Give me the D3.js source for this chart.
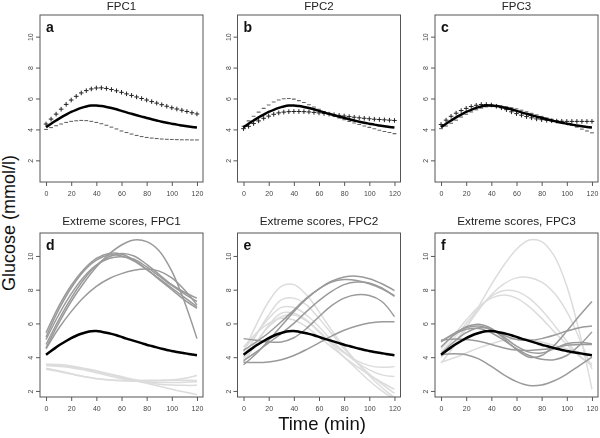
<!DOCTYPE html>
<html><head><meta charset="utf-8">
<script src="https://cdn.jsdelivr.net/npm/d3@7"></script>
<style>body{margin:0;background:#fff}svg{display:block;font-family:"Liberation Sans",Arial,sans-serif}.tk{opacity:0.99;will-change:opacity}</style>
</head><body><svg id="chart" width="600" height="438"></svg>
<script>
// ---------- data ----------
const timeFine = [0,4,8,12,16,20,24,28,32,36,40,44,48,52,56,60,64,68,72,76,80,84,88,92,96,100,104,108,112,116,120];
const timeCoarse = [0,10,20,30,40,50,60,70,80,90,100,110,120];
const xTicks = [0,20,40,60,80,100,120];
const yTicks = [2,4,6,8,10];

const meanCurve = [4.15,4.37,4.58,4.78,4.96,5.13,5.27,5.39,5.48,5.54,5.55,5.51,5.45,5.38,5.3,5.2,5.1,5.01,4.92,4.83,4.74,4.66,4.58,4.5,4.43,4.37,4.31,4.26,4.21,4.16,4.12];

const fpc1Plus  = [4.35,4.67,4.99,5.31,5.62,5.9,6.14,6.36,6.51,6.62,6.68,6.69,6.65,6.58,6.5,6.4,6.3,6.2,6.1,6.0,5.9,5.8,5.7,5.6,5.5,5.4,5.32,5.24,5.16,5.08,5.0];
const fpc1Minus = [4.0,4.12,4.24,4.35,4.45,4.52,4.56,4.58,4.57,4.52,4.45,4.37,4.27,4.15,4.03,3.9,3.8,3.7,3.61,3.54,3.48,3.44,3.41,3.38,3.36,3.35,3.34,3.33,3.33,3.32,3.32];
const fpc2Plus  = [4.05,4.2,4.38,4.55,4.72,4.86,4.98,5.07,5.12,5.15,5.16,5.16,5.15,5.13,5.1,5.07,5.03,4.99,4.95,4.91,4.87,4.83,4.79,4.75,4.72,4.69,4.66,4.64,4.62,4.6,4.58];
const fpc2Minus = [4.2,4.55,4.85,5.12,5.36,5.58,5.77,5.9,5.98,6.0,5.96,5.86,5.74,5.6,5.45,5.3,5.15,5.0,4.87,4.75,4.63,4.52,4.42,4.32,4.22,4.13,4.04,3.95,3.87,3.8,3.73];
const fpc3Plus  = [4.32,4.6,4.85,5.05,5.22,5.36,5.48,5.56,5.61,5.61,5.58,5.5,5.4,5.28,5.14,5.02,4.92,4.83,4.75,4.68,4.63,4.59,4.56,4.54,4.53,4.52,4.52,4.52,4.52,4.52,4.52];
const fpc3Minus = [4.05,4.22,4.4,4.6,4.8,4.98,5.13,5.27,5.38,5.46,5.5,5.52,5.5,5.46,5.4,5.33,5.24,5.14,5.04,4.94,4.84,4.74,4.65,4.56,4.47,4.38,4.27,4.15,4.02,3.9,3.78];

const extDark1 = [
  [4.55,6.0,7.3,8.4,9.35,10.1,10.65,10.95,10.85,10.3,9.1,7.3,5.1],
  [4.5,5.7,6.7,7.55,8.2,8.65,8.95,9.15,9.22,9.1,8.7,8.0,7.1],
  [5.45,7.0,8.25,9.2,9.85,10.15,10.1,9.75,9.2,8.6,8.0,7.4,6.9],
  [5.2,6.8,8.1,9.1,9.75,10.05,10.0,9.7,9.2,8.65,8.1,7.55,7.0],
  [5.05,6.5,7.75,8.75,9.45,9.85,9.95,9.8,9.35,8.8,8.25,7.75,7.3],
  [4.75,6.2,7.5,8.6,9.45,9.95,10.15,10.0,9.5,8.9,8.3,7.85,7.5]
];
const extLight1 = [
  [3.55,3.5,3.42,3.3,3.15,2.98,2.8,2.62,2.45,2.28,2.1,1.93,1.78],
  [3.5,3.45,3.38,3.25,3.08,2.9,2.72,2.6,2.52,2.5,2.5,2.52,2.55],
  [3.28,3.15,3.0,2.85,2.72,2.65,2.6,2.58,2.58,2.6,2.65,2.75,2.92],
  [3.6,3.56,3.48,3.35,3.2,3.02,2.85,2.68,2.52,2.4,2.35,2.33,2.33],
  [3.35,3.2,3.02,2.86,2.74,2.66,2.62,2.62,2.63,2.64,2.64,2.63,2.62]
];
const extDark2 = [
  [5.1,5.0,4.9,4.9,5.15,5.7,6.4,7.05,7.5,7.7,7.65,7.3,6.4],
  [3.7,3.68,3.72,3.85,4.1,4.45,4.85,5.25,5.6,5.85,6.02,6.1,6.1],
  [3.55,4.2,5.0,5.85,6.7,7.45,8.05,8.5,8.75,8.8,8.65,8.35,7.95],
  [4.4,4.9,5.45,6.1,6.8,7.5,8.05,8.45,8.6,8.55,8.35,8.05,7.65],
  [3.8,4.3,4.85,5.4,6.0,6.7,7.35,7.9,8.3,8.45,8.4,8.1,7.6]
];
const extLight2 = [
  [4.3,5.9,7.3,8.2,8.3,7.7,6.7,5.6,4.6,3.7,2.9,2.2,1.6],
  [4.0,5.3,6.5,7.4,7.5,7.1,6.3,5.4,4.5,3.7,3.0,2.4,1.85],
  [4.4,5.4,6.3,6.95,6.95,6.5,5.8,5.0,4.3,3.7,3.25,2.95,2.85],
  [3.7,4.8,5.9,6.6,6.6,6.2,5.55,4.85,4.25,3.8,3.5,3.4,3.45],
  [4.6,5.4,6.0,6.3,6.2,5.8,5.2,4.6,4.0,3.45,2.95,2.5,2.1],
  [3.9,4.9,5.8,6.4,6.5,6.15,5.5,4.75,4.0,3.3,2.6,2.0,1.5]
];
const extDark3 = [
  [4.15,4.2,4.15,3.9,3.45,2.95,2.55,2.32,2.35,2.6,3.0,3.5,4.0],
  [4.6,5.3,5.8,5.95,5.7,5.1,4.45,4.0,4.1,4.7,5.55,6.45,7.3],
  [4.9,5.4,5.75,5.85,5.65,5.3,5.05,5.0,5.1,5.3,5.55,5.75,5.85],
  [4.95,5.35,5.65,5.7,5.45,5.0,4.5,4.1,3.88,3.85,4.1,4.7,5.5],
  [4.2,4.9,5.45,5.75,5.65,5.2,4.65,4.3,4.25,4.5,4.8,4.87,4.8],
  [5.0,5.08,5.05,4.95,4.75,4.55,4.42,4.4,4.45,4.55,4.7,4.75,4.75]
];
const extLight3 = [
  [3.65,4.6,5.7,7.0,8.3,9.45,10.4,10.95,10.85,10.0,8.2,5.5,2.1],
  [4.0,4.8,5.8,6.8,7.7,8.35,8.7,8.72,8.45,7.8,6.7,5.1,3.3],
  [4.3,5.1,6.0,6.9,7.6,7.95,7.9,7.5,6.8,5.9,4.95,4.1,3.5],
  [4.5,5.3,6.2,7.0,7.5,7.68,7.5,7.0,6.3,5.5,4.75,4.05,3.6],
  [3.7,3.95,4.25,4.55,4.8,5.0,5.1,5.05,4.9,4.7,4.5,4.3,4.1]
];

const topTitles = ["FPC1","FPC2","FPC3"];
const bottomTitles = ["Extreme scores, FPC1","Extreme scores, FPC2","Extreme scores, FPC3"];
const topLetters = ["a","b","c"];
const bottomLetters = ["d","e","f"];
const plusSeries = [fpc1Plus, fpc2Plus, fpc3Plus];
const minusSeries = [fpc1Minus, fpc2Minus, fpc3Minus];
const darkSets = [extDark1, extDark2, extDark3];
const lightSets = [extLight1, extLight2, extLight3];

// ---------- layout ----------
const svg = d3.select("#chart");
const lefts = [40, 237.5, 435];
const W = 163;
const rows = [{top: 15, bottom: 182, dom: [0.6, 11.4]}, {top: 233, bottom: 397, dom: [1.64, 11.36]}];
const boxColor = "#555";

function panel(col, row, idx) {
  const L = lefts[col], R = rows[row];
  const x = d3.scaleLinear().domain([-4.8, 124.8]).range([L, L + W]);
  const y = d3.scaleLinear().domain(R.dom).range([R.bottom, R.top]);
  const g = svg.append("g");
  const clipId = "clip" + idx;
  svg.append("clipPath").attr("id", clipId).append("rect")
    .attr("x", L).attr("y", R.top).attr("width", W).attr("height", R.bottom - R.top);

  const xa = g.append("g").attr("class", "tk").attr("transform", `translate(0,${R.bottom})`)
    .call(d3.axisBottom(x).tickValues(xTicks).tickSize(4).tickSizeOuter(0).tickPadding(5));
  xa.select(".domain").remove();
  xa.selectAll("line").attr("stroke", boxColor);
  xa.selectAll("text").attr("font-size", 7).attr("fill", "#444").attr("font-family", "Liberation Sans, Arial, sans-serif");

  const ya = g.append("g").attr("class", "tk").attr("transform", `translate(${L},0)`)
    .call(d3.axisLeft(y).tickValues(yTicks).tickSize(4).tickSizeOuter(0));
  ya.select(".domain").remove();
  ya.selectAll("line").attr("stroke", boxColor);
  ya.selectAll("text").attr("font-size", 7).attr("fill", "#444").attr("font-family", "Liberation Sans, Arial, sans-serif")
    .attr("transform", "rotate(-90)").attr("x", 0).attr("y", -7).attr("dy", 0).attr("text-anchor", "middle");

  const plot = g.append("g").attr("clip-path", `url(#${clipId})`);
  return {x, y, g, plot, L, R};
}

const lineFine = (x, y) => d3.line().x((d, i) => x(timeFine[i])).y(d => y(d)).curve(d3.curveCatmullRom.alpha(0.5));
const lineCoarse = (x, y) => d3.line().x((d, i) => x(timeCoarse[i])).y(d => y(d)).curve(d3.curveCatmullRom.alpha(0.5));

// top row
for (let c = 0; c < 3; c++) {
  const p = panel(c, 0, c);
  p.plot.selectAll("path.minus").data(minusSeries[c]).enter().append("path")
    .attr("d", "M-1.9,0H1.9").attr("stroke", "#666").attr("stroke-width", 1.1)
    .attr("transform", (d, i) => `translate(${p.x(timeFine[i])},${p.y(d)})`);
  p.plot.selectAll("path.plus").data(plusSeries[c]).enter().append("path")
    .attr("d", "M-2.3,0H2.3M0,-2.3V2.3").attr("stroke", "#222").attr("stroke-width", 1)
    .attr("transform", (d, i) => `translate(${p.x(timeFine[i])},${p.y(d)})`);
  p.plot.append("path").attr("d", lineFine(p.x, p.y)(meanCurve))
    .attr("fill", "none").attr("stroke", "#000").attr("stroke-width", 2.5);
  p.g.append("rect").attr("x", p.L).attr("y", p.R.top).attr("width", W).attr("height", p.R.bottom - p.R.top)
    .attr("fill", "none").attr("stroke", boxColor).attr("stroke-width", 1);
  svg.append("text").attr("x", p.L + W / 2).attr("y", 9.5).attr("text-anchor", "middle")
    .attr("font-size", 11.5).attr("fill", "#222").text(topTitles[c]);
  svg.append("text").attr("x", p.L + 6).attr("y", p.R.top + 17).attr("font-size", 14)
    .attr("font-weight", "bold").attr("fill", "#111").text(topLetters[c]);
}

// bottom row
for (let c = 0; c < 3; c++) {
  const p = panel(c, 1, c + 3);
  const lc = lineCoarse(p.x, p.y);
  lightSets[c].forEach(s => p.plot.append("path").attr("d", lc(s)).attr("fill", "none")
    .attr("stroke", "#dcdcdc").attr("stroke-width", 1.5));
  darkSets[c].forEach(s => p.plot.append("path").attr("d", lc(s)).attr("fill", "none")
    .attr("stroke", "#9a9a9a").attr("stroke-width", 1.5));
  p.plot.append("path").attr("d", lineFine(p.x, p.y)(meanCurve))
    .attr("fill", "none").attr("stroke", "#000").attr("stroke-width", 2.5);
  p.g.append("rect").attr("x", p.L).attr("y", p.R.top).attr("width", W).attr("height", p.R.bottom - p.R.top)
    .attr("fill", "none").attr("stroke", boxColor).attr("stroke-width", 1);
  svg.append("text").attr("x", p.L + W / 2).attr("y", 224.5).attr("text-anchor", "middle")
    .attr("font-size", 11.8).attr("fill", "#222").text(bottomTitles[c]);
  svg.append("text").attr("x", p.L + 6).attr("y", p.R.top + 16.5).attr("font-size", 14)
    .attr("font-weight", "bold").attr("fill", "#111").text(bottomLetters[c]);
}

// global labels
svg.append("text").attr("transform", "translate(15,223) rotate(-90)").attr("text-anchor", "middle")
  .attr("font-size", 18).attr("fill", "#111").text("Glucose (mmol/l)");
svg.append("text").attr("x", 322).attr("y", 430).attr("text-anchor", "middle")
  .attr("font-size", 18.5).attr("fill", "#111").text("Time (min)");
</script></body></html>
